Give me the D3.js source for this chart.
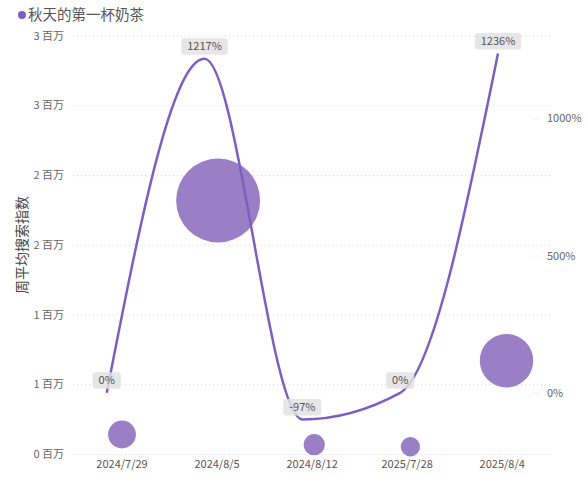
<!DOCTYPE html>
<html>
<head>
<meta charset="utf-8">
<script src="https://cdn.jsdelivr.net/npm/d3@7"></script>
<style>
  body { margin: 0; background: #fff; }
  text { font-family: "Noto Sans CJK SC", "Noto Sans", sans-serif; }
</style>
</head>
<body>
<div class="canvas"></div>
<script>
const categories = ['2024/7/29', '2024/8/5', '2024/8/12', '2025/7/28', '2025/8/4'];
const searchIndex = [140000, 1818000, 67000, 52000, 669000];
const growthPct = [0, 1217, -97, 0, 1236];
const leftTicks = [0, 500000, 1000000, 1500000, 2000000, 2500000, 3000000];
const rightTicks = [0, 500, 1000];
const seriesName = '秋天的第一杯奶茶';

const dims = { width: 588, height: 477 };
const plot = { left: 73, right: 552, top: 35.7, bottom: 454 };
const purple = '#7d5fc0';
const bubbleFill = '#9a7ec6';

const svg = d3
  .select('.canvas')
  .append('svg')
  .attr('width', dims.width)
  .attr('height', dims.height);

// category positions: labels, bubbles and line sit on slightly different offsets
const xLabel = d3.scalePoint().domain(categories).range([121.5, 501.7]);
const xBubble = d3.scalePoint().domain(categories).range([122, 506.5]);
const xLine = d3.scalePoint().domain(categories).range([106.7, 498]);

const yLeft = d3.scaleLinear().domain([0, 3000000]).range([plot.bottom, plot.top]);
const yRight = d3.scaleLinear().domain([-223, 1301]).range([plot.bottom, plot.top]);
const rScale = d3.scaleSqrt().domain(d3.extent(searchIndex)).range([9.7, 42]);

// grid + left axis
const leftAxis = svg
  .append('g')
  .attr('transform', `translate(${plot.left}, 0)`)
  .call(
    d3.axisLeft(yLeft)
      .tickValues(leftTicks)
      .tickSize(-(plot.right - plot.left))
      .tickPadding(9)
      .tickFormat((d) => `${Math.round(d / 1e6)} 百万`)
  );
leftAxis.select('.domain').remove();
leftAxis
  .selectAll('line')
  .attr('stroke', '#d6d6d6')
  .attr('stroke-dasharray', '1,3');
leftAxis
  .selectAll('text')
  .attr('fill', '#666')
  .attr('font-size', 11);

// right axis
const rightAxis = svg
  .append('g')
  .attr('transform', 'translate(533, 0)')
  .call(
    d3.axisRight(yRight)
      .tickValues(rightTicks)
      .tickSize(6)
      .tickPadding(8)
      .tickFormat((d) => `${d}%`)
  );
rightAxis.select('.domain').remove();
rightAxis
  .selectAll('line')
  .attr('stroke', '#d6d6d6')
  .attr('stroke-dasharray', '1,3');
rightAxis
  .selectAll('text')
  .attr('fill', '#666')
  .attr('font-size', 11);

// x axis labels
const xAxis = svg
  .append('g')
  .attr('transform', `translate(0, ${plot.bottom})`)
  .call(d3.axisBottom(xLabel).tickSize(0).tickPadding(6));
xAxis.select('.domain').remove();
xAxis
  .selectAll('text')
  .attr('fill', '#555')
  .attr('font-size', 11);

// left title
svg
  .append('text')
  .attr('transform', 'translate(27, 245) rotate(-90)')
  .attr('text-anchor', 'middle')
  .attr('fill', '#444')
  .attr('font-size', 14)
  .text('周平均搜索指数');

// bubbles
svg
  .append('g')
  .selectAll('circle')
  .data(categories)
  .enter()
  .append('circle')
  .attr('cx', (d) => xBubble(d))
  .attr('cy', (d, i) => yLeft(searchIndex[i]))
  .attr('r', (d, i) => rScale(searchIndex[i]))
  .attr('fill', bubbleFill);

// growth line
const line = d3
  .line()
  .x((d) => xLine(d))
  .y((d, i) => yRight(growthPct[i]))
  .curve(d3.curveMonotoneX);

svg
  .append('path')
  .attr('d', line(categories))
  .attr('fill', 'none')
  .attr('stroke', purple)
  .attr('stroke-width', 2.5);

// value labels
const labels = svg
  .append('g')
  .selectAll('.value-label')
  .data(categories)
  .enter()
  .append('g')
  .attr('class', 'value-label')
  .attr('transform', (d, i) => `translate(${xLine(d)}, ${yRight(growthPct[i]) - 4})`);

labels
  .append('text')
  .attr('y', -4.5)
  .attr('text-anchor', 'middle')
  .attr('fill', '#555')
  .attr('font-size', 11)
  .text((d, i) => `${growthPct[i]}%`)
  .each(function () {
    const w = this.getComputedTextLength();
    d3.select(this.parentNode)
      .insert('rect', 'text')
      .attr('x', -w / 2 - 6)
      .attr('y', -16.5)
      .attr('width', w + 12)
      .attr('height', 16.5)
      .attr('rx', 3)
      .attr('fill', 'rgba(226,226,226,0.85)');
  });

// legend
const legend = svg.append('g').attr('transform', 'translate(22, 15)');
legend.append('circle').attr('r', 4).attr('fill', purple);
legend
  .append('text')
  .attr('x', 6)
  .attr('y', 5)
  .attr('fill', '#555')
  .attr('font-size', 14.5)
  .text(seriesName);
</script>
</body>
</html>
